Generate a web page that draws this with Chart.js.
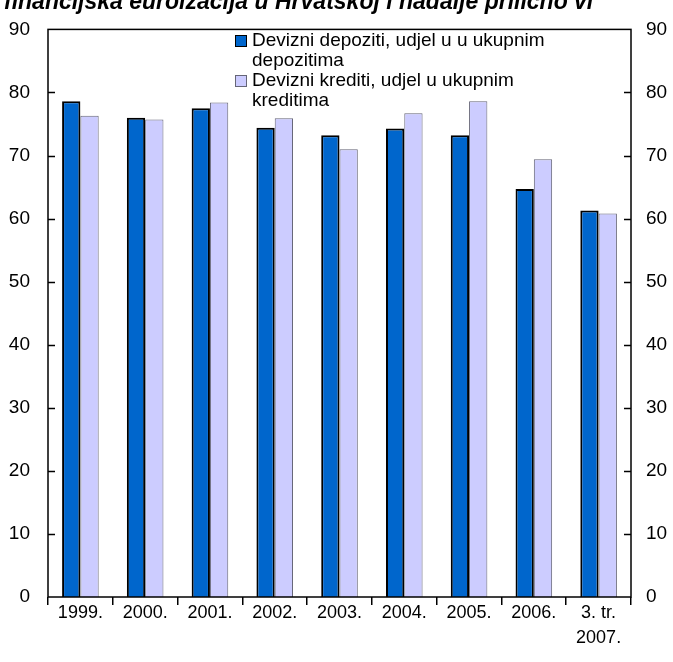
<!DOCTYPE html>
<html>
<head>
<meta charset="utf-8">
<script src="https://cdn.jsdelivr.net/npm/chart.js@4/dist/chart.umd.min.js"></script>
<style>
  body { margin: 0; background: #fff; }
  #wrap { width: 673px; height: 662px; position: relative; }
</style>
</head>
<body>
<div id="wrap"><canvas id="chart" width="673" height="662"></canvas></div>
<script>
// podaci
var godine = ['1999.', '2000.', '2001.', '2002.', '2003.', '2004.', '2005.', '2006.', ['3. tr.', '2007.']];
var depoziti = [78.6, 76.0, 77.5, 74.4, 73.2, 74.3, 73.2, 64.7, 61.3];
var krediti = [76.3, 75.7, 78.4, 75.9, 71.0, 76.7, 78.6, 69.4, 60.8];
var oznakaDepoziti = ['Devizni depoziti, udjel u u ukupnim', 'depozitima'];
var oznakaKrediti = ['Devizni krediti, udjel u ukupnim', 'kreditima'];
var naslov = 'financijska euroizacija u Hrvatskoj i nadalje prilično vi';

var font = 'Arial, "Liberation Sans", sans-serif';

// okvir, unutarnje crtice, legenda i odrezani naslov
var okvirPlugin = {
    id: 'okvir',
    afterDatasetsDraw: function (chart) {
        var ctx = chart.ctx;
        var a = chart.chartArea;
        var y = chart.scales.y;
        ctx.save();
        ctx.strokeStyle = '#000';
        ctx.lineWidth = 1.5;
        ctx.strokeRect(a.left, a.top, a.right - a.left, a.bottom - a.top);
        ctx.beginPath();
        for (var v = 10; v < 90; v += 10) {
            var py = Math.round(y.getPixelForValue(v)) + 0.5;
            ctx.moveTo(a.left, py);
            ctx.lineTo(a.left + 7, py);
            ctx.moveTo(a.right, py);
            ctx.lineTo(a.right - 7, py);
        }
        ctx.stroke();

        // legenda
        var items = [
            { lines: oznakaDepoziti, ds: chart.data.datasets[0] },
            { lines: oznakaKrediti, ds: chart.data.datasets[1] }
        ];
        ctx.font = '19px ' + font;
        ctx.textBaseline = 'alphabetic';
        var base = 46;
        items.forEach(function (it) {
            ctx.fillStyle = it.ds.backgroundColor;
            ctx.fillRect(235, base - 11, 12, 12);
            ctx.strokeStyle = it.ds.borderColor;
            ctx.lineWidth = 1;
            ctx.strokeRect(235.5, base - 10.5, 11, 11);
            ctx.fillStyle = '#000';
            it.lines.forEach(function (l, i) {
                ctx.fillText(l, 252, base + i * 20);
            });
            base += 40;
        });

        // naslov (odrezan na vrhu)
        ctx.font = 'italic bold 23px ' + font;
        ctx.fillText(naslov, 4, 9);
        ctx.restore();
    }
};

var config = {
    type: 'bar',
    data: {
        labels: godine,
        datasets: [{
            label: oznakaDepoziti.join(' '),
            data: depoziti,
            backgroundColor: '#0066CC',
            borderColor: '#000000',
            borderWidth: 2,
            categoryPercentage: 0.565,
            barPercentage: 1.0
        }, {
            label: oznakaKrediti.join(' '),
            data: krediti,
            backgroundColor: '#CCCCFF',
            borderColor: '#666677',
            borderWidth: 1,
            categoryPercentage: 0.565,
            barPercentage: 1.0
        }]
    },
    options: {
        responsive: false,
        animation: false,
        layout: { padding: { top: 19, left: 0, right: 0, bottom: 0 } },
        plugins: {
            legend: { display: false },
            tooltip: { enabled: false }
        },
        scales: {
            x: {
                grid: { display: true, drawOnChartArea: false, offset: true, tickLength: 8, color: '#000', lineWidth: 1.5 },
                border: { display: false },
                ticks: { color: '#000', font: { family: font, size: 18, lineHeight: 1.4 }, padding: -5, maxRotation: 0 },
                afterFit: function (s) { s.height = 65; }
            },
            y: {
                position: 'left',
                min: 0, max: 90,
                grid: { display: false, drawTicks: false },
                border: { display: false },
                ticks: { stepSize: 10, color: '#000', font: { family: font, size: 19 }, padding: 18 },
                afterFit: function (s) { s.width = 48; }
            },
            y2: {
                position: 'right',
                min: 0, max: 90,
                grid: { display: false, drawTicks: false },
                border: { display: false },
                ticks: { stepSize: 10, color: '#000', font: { family: font, size: 19 }, padding: 15 },
                afterFit: function (s) { s.width = 42; }
            }
        }
    },
    plugins: [okvirPlugin]
};

var chart = new Chart(document.getElementById('chart'), config);
</script>
</body>
</html>
